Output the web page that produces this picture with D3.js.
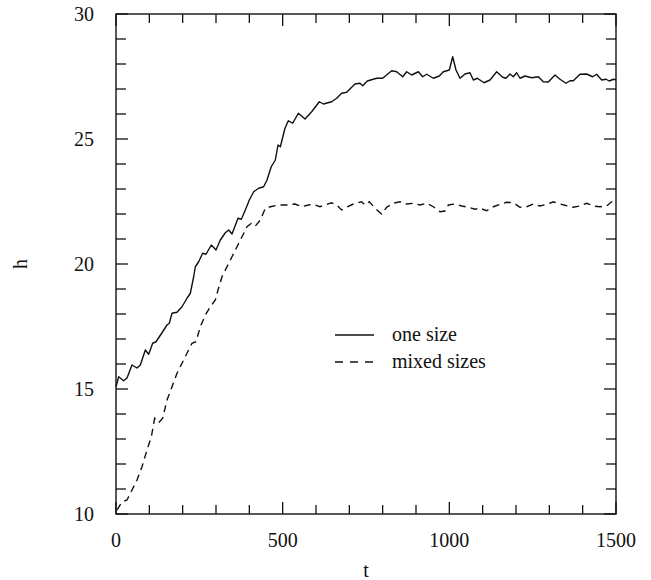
<!DOCTYPE html>
<html>
<head>
<meta charset="utf-8">
<script src="https://cdn.jsdelivr.net/npm/d3@7"></script>
<style>
  body { margin: 0; background: #fff; }
  svg text { font-family: "Liberation Serif", "DejaVu Serif", serif; fill: #111; }
</style>
</head>
<body>
<div id="chart"></div>
<script>
// one size (solid): t, h
const oneSizeT = [0, 8, 23, 33, 48, 63, 73, 88, 98, 110, 120, 138, 153, 160, 168, 183, 198, 213, 223, 233, 238, 248, 260, 270, 286, 300, 313, 328, 338, 348, 366, 376, 388, 400, 413, 428, 443, 453, 466, 478, 486, 493, 507, 517, 530, 547, 567, 587, 610, 622, 647, 662, 677, 692, 717, 732, 740, 754, 782, 800, 827, 842, 860, 872, 887, 907, 920, 932, 952, 970, 982, 1000, 1010, 1020, 1032, 1047, 1062, 1072, 1084, 1104, 1122, 1142, 1160, 1170, 1182, 1192, 1202, 1212, 1227, 1247, 1267, 1282, 1297, 1317, 1332, 1350, 1362, 1372, 1392, 1412, 1430, 1442, 1457, 1470, 1480, 1492, 1500];
const oneSizeH = [15.09, 15.49, 15.33, 15.44, 15.96, 15.84, 15.96, 16.56, 16.39, 16.83, 16.89, 17.25, 17.56, 17.63, 18.03, 18.07, 18.29, 18.63, 18.83, 19.49, 19.89, 20.09, 20.43, 20.39, 20.76, 20.56, 20.96, 21.25, 21.36, 21.2, 21.83, 21.79, 22.16, 22.56, 22.89, 23.03, 23.09, 23.36, 23.9, 24.16, 24.76, 24.69, 25.43, 25.73, 25.63, 26.03, 25.8, 26.09, 26.49, 26.4, 26.49, 26.63, 26.83, 26.87, 27.2, 27.23, 27.13, 27.32, 27.43, 27.43, 27.73, 27.69, 27.49, 27.69, 27.56, 27.69, 27.49, 27.59, 27.43, 27.52, 27.69, 27.76, 28.29, 27.76, 27.43, 27.6, 27.65, 27.36, 27.43, 27.25, 27.36, 27.69, 27.47, 27.43, 27.6, 27.49, 27.65, 27.43, 27.52, 27.45, 27.49, 27.29, 27.28, 27.56, 27.39, 27.23, 27.33, 27.33, 27.59, 27.6, 27.49, 27.59, 27.36, 27.39, 27.32, 27.39, 27.37];

// mixed sizes (dashed): t, h
const mixedT = [3, 18, 33, 48, 63, 78, 93, 106, 116, 128, 140, 153, 168, 183, 198, 213, 228, 240, 253, 268, 283, 298, 306, 318, 333, 348, 363, 378, 393, 406, 418, 433, 448, 463, 488, 512, 537, 557, 577, 592, 612, 627, 647, 662, 677, 692, 712, 737, 747, 760, 777, 797, 812, 832, 852, 872, 892, 912, 932, 952, 972, 987, 997, 1017, 1037, 1057, 1077, 1092, 1112, 1132, 1152, 1172, 1192, 1212, 1232, 1252, 1272, 1292, 1312, 1332, 1352, 1372, 1392, 1412, 1432, 1452, 1472, 1487, 1500];
const mixedH = [10.16, 10.49, 10.56, 10.96, 11.36, 11.89, 12.56, 13.09, 13.83, 13.65, 13.83, 14.56, 15.09, 15.63, 16.03, 16.43, 16.83, 16.89, 17.49, 17.96, 18.29, 18.56, 18.96, 19.49, 19.89, 20.29, 20.69, 21.09, 21.49, 21.63, 21.52, 21.76, 22.23, 22.29, 22.36, 22.36, 22.4, 22.29, 22.36, 22.39, 22.29, 22.36, 22.45, 22.36, 22.16, 22.27, 22.4, 22.49, 22.36, 22.49, 22.23, 22.0, 22.27, 22.43, 22.49, 22.4, 22.43, 22.36, 22.43, 22.29, 22.09, 22.12, 22.36, 22.4, 22.32, 22.27, 22.19, 22.23, 22.13, 22.29, 22.39, 22.47, 22.45, 22.27, 22.29, 22.4, 22.32, 22.39, 22.49, 22.4, 22.33, 22.27, 22.32, 22.43, 22.32, 22.29, 22.32, 22.49, 22.55];

const xMajor = [0, 500, 1000, 1500];
const yMajor = [10, 15, 20, 25, 30];
const legendLabels = ["one size", "mixed sizes"];

const width = 651, height = 580;
const margin = {left: 116, right: 35, top: 14, bottom: 66};

const svg = d3.select("#chart").append("svg")
    .attr("width", width)
    .attr("height", height);

const x = d3.scaleLinear().domain([0, 1500]).range([margin.left, width - margin.right]);
const y = d3.scaleLinear().domain([10, 30]).range([height - margin.bottom, margin.top]);

const xMinor = d3.range(0, 1501, 100).filter(d => !xMajor.includes(d));
const yMinor = d3.range(10, 31, 1).filter(d => !yMajor.includes(d));

// 刻度线（四边向内）
const tickG = svg.append("g").attr("stroke", "#111").attr("stroke-width", 1.3);
function xTicks(vals, len) {
    vals.forEach(v => {
        tickG.append("line").attr("x1", x(v)).attr("x2", x(v)).attr("y1", y(10)).attr("y2", y(10) - len);
        tickG.append("line").attr("x1", x(v)).attr("x2", x(v)).attr("y1", y(30)).attr("y2", y(30) + len);
    });
}
function yTicks(vals, len) {
    vals.forEach(v => {
        tickG.append("line").attr("x1", x(0)).attr("x2", x(0) + len).attr("y1", y(v)).attr("y2", y(v));
        tickG.append("line").attr("x1", x(1500)).attr("x2", x(1500) - len).attr("y1", y(v)).attr("y2", y(v));
    });
}
xTicks(xMajor, 12); xTicks(xMinor, 9);
yTicks(yMajor, 12); yTicks(yMinor, 10);

// 边框
svg.append("rect")
    .attr("x", x(0)).attr("y", y(30))
    .attr("width", x(1500) - x(0)).attr("height", y(10) - y(30))
    .attr("fill", "none").attr("stroke", "#111").attr("stroke-width", 1.4);

// 刻度标签
svg.append("g").selectAll("text").data(xMajor).enter().append("text")
    .attr("x", d => x(d)).attr("y", 547)
    .attr("text-anchor", "middle").attr("font-size", 20)
    .text(d => d);
svg.append("g").selectAll("text").data(yMajor).enter().append("text")
    .attr("x", 94).attr("y", d => y(d) + 7)
    .attr("text-anchor", "end").attr("font-size", 20)
    .text(d => d);

// 轴标题
svg.append("text").attr("x", 366).attr("y", 577)
    .attr("text-anchor", "middle").attr("font-size", 20).text("t");
svg.append("text")
    .attr("transform", "translate(27,264) rotate(-90)")
    .attr("text-anchor", "middle").attr("font-size", 20).text("h");

// 曲线
const line = d3.line().x(d => x(d[0])).y(d => y(d[1]));
const oneSize = oneSizeT.map((t, i) => [t, oneSizeH[i]]);
const mixed = mixedT.map((t, i) => [t, mixedH[i]]);

svg.append("path").datum(oneSize)
    .attr("d", line).attr("fill", "none")
    .attr("stroke", "#111").attr("stroke-width", 1.4).attr("stroke-linejoin", "round");
svg.append("path").datum(mixed)
    .attr("d", line).attr("fill", "none")
    .attr("stroke", "#111").attr("stroke-width", 1.4).attr("stroke-dasharray", "7,5");

// 图例
const legend = svg.append("g");
legendLabels.forEach((lab, i) => {
    const ly = 335 + i * 27;
    legend.append("line")
        .attr("x1", 335).attr("x2", 374).attr("y1", ly).attr("y2", ly)
        .attr("stroke", "#111").attr("stroke-width", 1.4)
        .attr("stroke-dasharray", i === 1 ? "8,7" : null);
    legend.append("text")
        .attr("x", 392).attr("y", ly + 6)
        .attr("font-size", 20).text(lab);
});
</script>
</body>
</html>
